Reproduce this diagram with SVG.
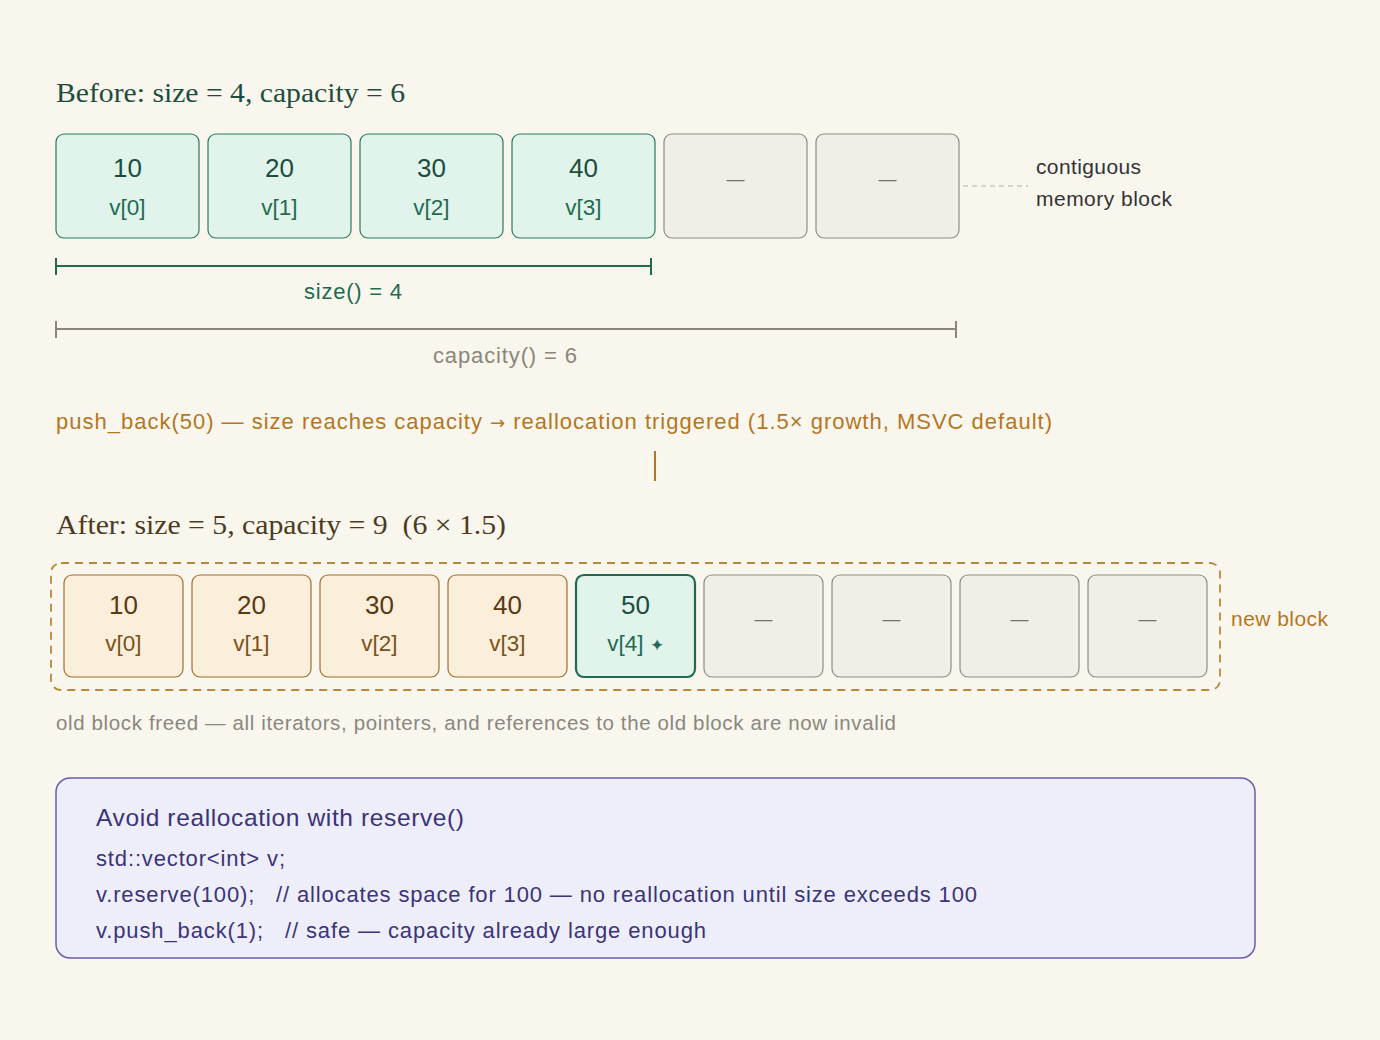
<svg xmlns="http://www.w3.org/2000/svg" width="1380" height="1040" viewBox="0 0 1380 1040">
<style>
.sans{font-family:"Liberation Sans",Arial,sans-serif}
.serif{font-family:"Liberation Serif","Times New Roman",serif}
.cg{fill:#e0f4ec;stroke:#2a7a5e;stroke-width:1.2}
.cg2{fill:#e0f4ec;stroke:#1f6b52;stroke-width:2.2}
.ce{fill:#f0efe7;stroke:#8f8c84;stroke-width:1.2}
.co{fill:#fbeedb;stroke:#a0702e;stroke-width:1.2}
.vg{fill:#1d4d3d;font-size:26px;text-anchor:middle}
.ig{fill:#1f6b52;font-size:22.5px;text-anchor:middle}
.vo{fill:#5a3a10;font-size:26px;text-anchor:middle}
.io{fill:#7a5218;font-size:22.5px;text-anchor:middle}
.dash{fill:#77746c;font-size:18px;text-anchor:middle}
</style>
<rect width="1380" height="1040" fill="#f9f6ee"/>
<text x="56" y="102" class="serif" font-size="28" fill="#1d4d3d" textLength="349" lengthAdjust="spacingAndGlyphs">Before: size = 4, capacity = 6</text>

<g id="before-0"><rect x="56" y="134" width="143" height="104" rx="8" class="cg"/><text x="127.5" y="177" class="sans vg">10</text><text x="127.5" y="215" class="sans ig">v[0]</text></g>
<g id="before-1"><rect x="208" y="134" width="143" height="104" rx="8" class="cg"/><text x="279.5" y="177" class="sans vg">20</text><text x="279.5" y="215" class="sans ig">v[1]</text></g>
<g id="before-2"><rect x="360" y="134" width="143" height="104" rx="8" class="cg"/><text x="431.5" y="177" class="sans vg">30</text><text x="431.5" y="215" class="sans ig">v[2]</text></g>
<g id="before-3"><rect x="512" y="134" width="143" height="104" rx="8" class="cg"/><text x="583.5" y="177" class="sans vg">40</text><text x="583.5" y="215" class="sans ig">v[3]</text></g>
<g id="before-4"><rect x="664" y="134" width="143" height="104" rx="8" class="ce"/><text x="735.5" y="185" class="sans dash">—</text></g>
<g id="before-5"><rect x="816" y="134" width="143" height="104" rx="8" class="ce"/><text x="887.5" y="185" class="sans dash">—</text></g>

<g id="contiguous-label"><text x="1036" y="174" class="sans" font-size="21" fill="#333" textLength="105">contiguous</text><text x="1036" y="206" class="sans" font-size="21" fill="#333" textLength="136">memory block</text></g>

<g id="connectors">
<line x1="963" y1="186" x2="1028" y2="186" stroke="#b0ada4" stroke-width="1.2" stroke-dasharray="5 4"/>
<g stroke="#1f6b52" stroke-width="2"><line x1="56" y1="266" x2="651" y2="266"/><line x1="56" y1="258" x2="56" y2="275"/><line x1="651" y1="258" x2="651" y2="275"/></g>
<g stroke="#8a877a" stroke-width="2"><line x1="56" y1="329" x2="956" y2="329"/><line x1="56" y1="321" x2="56" y2="338"/><line x1="956" y1="321" x2="956" y2="338"/></g>
<line x1="655" y1="451" x2="655" y2="481" stroke="#b5761e" stroke-width="2"/>
</g>

<text x="304" y="299" class="sans" font-size="22" fill="#1f6b52" textLength="98">size() = 4</text>
<text x="433" y="363" class="sans" font-size="22" fill="#8a877a" textLength="144">capacity() = 6</text>

<text x="56" y="429" class="sans" font-size="22" fill="#b5761e" textLength="996">push_back(50) — size reaches capacity <tspan font-family="DejaVu Sans,sans-serif" font-size="18">→</tspan> reallocation triggered (1.5× growth, MSVC default)</text>

<text x="56" y="534" class="serif" font-size="28" fill="#4d3b1e" xml:space="preserve" textLength="450" lengthAdjust="spacingAndGlyphs">After: size = 5, capacity = 9  (6 × 1.5)</text>

<g id="new-block"><rect x="51" y="563" width="1169" height="127" rx="10" fill="none" stroke="#b8893a" stroke-width="1.8" stroke-dasharray="8 6"/><text x="1231" y="626" class="sans" font-size="21" fill="#b5761e" textLength="97">new block</text></g>

<g id="after-0"><rect x="64" y="575" width="119" height="102" rx="8" class="co"/><text x="123.5" y="614" class="sans vo">10</text><text x="123.5" y="651" class="sans io">v[0]</text></g>
<g id="after-1"><rect x="192" y="575" width="119" height="102" rx="8" class="co"/><text x="251.5" y="614" class="sans vo">20</text><text x="251.5" y="651" class="sans io">v[1]</text></g>
<g id="after-2"><rect x="320" y="575" width="119" height="102" rx="8" class="co"/><text x="379.5" y="614" class="sans vo">30</text><text x="379.5" y="651" class="sans io">v[2]</text></g>
<g id="after-3"><rect x="448" y="575" width="119" height="102" rx="8" class="co"/><text x="507.5" y="614" class="sans vo">40</text><text x="507.5" y="651" class="sans io">v[3]</text></g>
<g id="after-4"><rect x="576" y="575" width="119" height="102" rx="8" class="cg2"/><text x="635.5" y="614" class="sans vg">50</text><text x="635.5" y="651" class="sans ig">v[4] <tspan font-size="17">✦</tspan></text></g>
<g id="after-5"><rect x="704" y="575" width="119" height="102" rx="8" class="ce"/><text x="763.5" y="625" class="sans dash">—</text></g>
<g id="after-6"><rect x="832" y="575" width="119" height="102" rx="8" class="ce"/><text x="891.5" y="625" class="sans dash">—</text></g>
<g id="after-7"><rect x="960" y="575" width="119" height="102" rx="8" class="ce"/><text x="1019.5" y="625" class="sans dash">—</text></g>
<g id="after-8"><rect x="1088" y="575" width="119" height="102" rx="8" class="ce"/><text x="1147.5" y="625" class="sans dash">—</text></g>

<text x="56" y="730" class="sans" font-size="20.5" fill="#8a877e" textLength="840">old block freed — all iterators, pointers, and references to the old block are now invalid</text>

<g id="reserve-note">
<rect x="56" y="778" width="1199" height="180" rx="14" fill="#eeeefa" stroke="#6b5db0" stroke-width="1.5"/>
<text x="96" y="826" class="sans" font-size="24.5" fill="#3b3478" textLength="368">Avoid reallocation with reserve()</text>
<text x="96" y="866" class="sans" font-size="22" fill="#3b3478" textLength="189">std::vector&lt;int&gt; v;</text>
<text x="96" y="902" class="sans" font-size="22" fill="#3b3478" xml:space="preserve" textLength="881">v.reserve(100);   // allocates space for 100 — no reallocation until size exceeds 100</text>
<text x="96" y="938" class="sans" font-size="22" fill="#3b3478" xml:space="preserve" textLength="610">v.push_back(1);   // safe — capacity already large enough</text>
</g>
</svg>
